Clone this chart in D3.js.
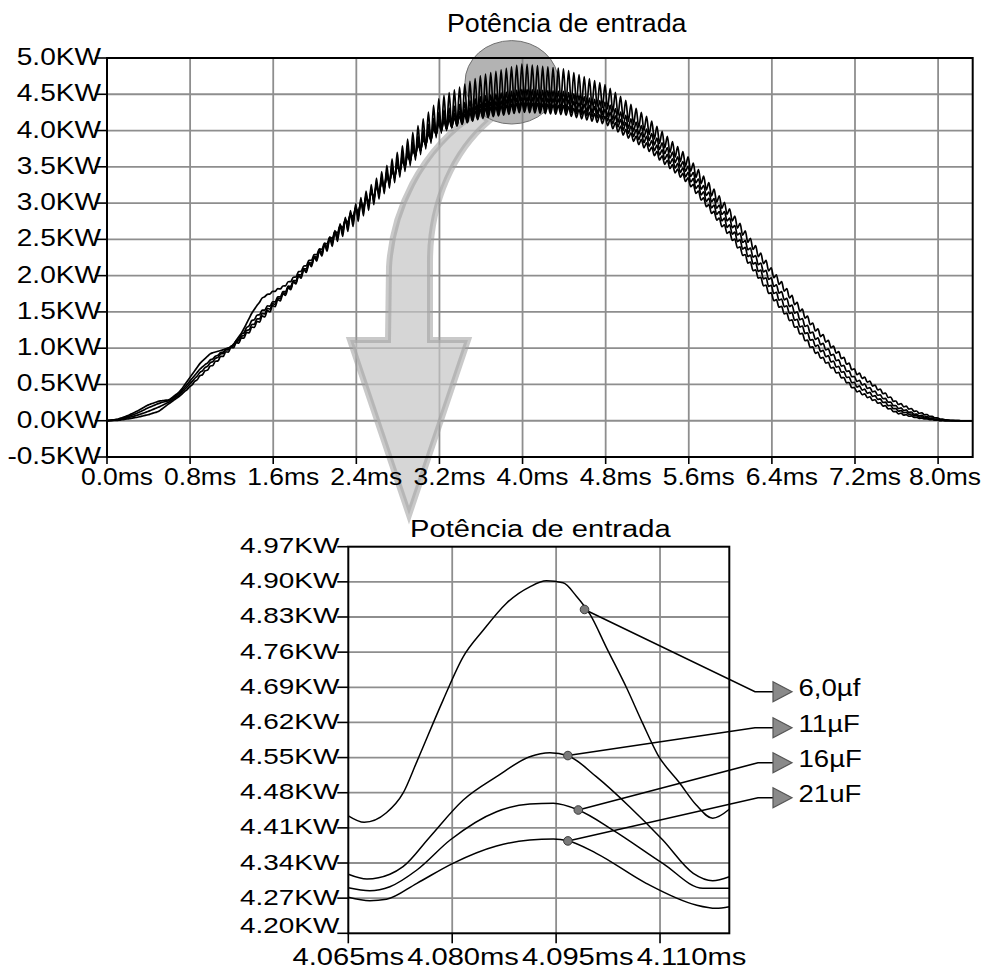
<!DOCTYPE html>
<html><head><meta charset="utf-8">
<script src="https://cdn.jsdelivr.net/npm/d3@7"></script>
<style>
html,body{margin:0;padding:0;background:#fff;}
svg{display:block;}
text{font-family:"Liberation Sans",Arial,Helvetica,sans-serif;fill:#000;}
</style>
</head><body>
<svg id="chart" width="989" height="974"></svg>
<script>
// ---------------- DATA ----------------
const TITLE = "Potência de entrada";

// top chart axes
const TOP_X_TICKS = [0, 0.8, 1.6, 2.4, 3.2, 4.0, 4.8, 5.6, 6.4, 7.2, 8.0];
const TOP_X_LABELS = ["0.0ms","0.8ms","1.6ms","2.4ms","3.2ms","4.0ms","4.8ms","5.6ms","6.4ms","7.2ms","8.0ms"];
const TOP_Y_TICKS = [-0.5, 0, 0.5, 1.0, 1.5, 2.0, 2.5, 3.0, 3.5, 4.0, 4.5, 5.0];
const TOP_Y_LABELS = ["-0.5KW","0.0KW","0.5KW","1.0KW","1.5KW","2.0KW","2.5KW","3.0KW","3.5KW","4.0KW","4.5KW","5.0KW"];

// top chart: envelope of each series (ms, KW) = slow mean + switching ripple half-amplitude
const ENV_T   = [0,0.1,0.2,0.3,0.4,0.5,0.6,0.7,0.8,0.9,1.0,1.1,1.2,1.3,1.4,1.5,1.6,1.7,1.8,2.0,2.4,2.8,3.2,3.6,4.0,4.4,4.8,5.2,5.6,6.0,6.4,6.8,7.2,7.6,7.8,8.0,8.1,8.2,8.333];
const MEAN_6  = [0,0.005,0.025,0.05,0.085,0.13,0.24,0.34,0.47,0.62,0.75,0.88,1.00,1.13,1.28,1.43,1.57,1.73,1.89,2.22,2.86,3.52,4.20,4.50,4.67,4.62,4.47,4.08,3.55,2.85,2.05,1.30,0.68,0.25,0.12,0.03,0.008,0,0];
const RIP_6   = [0,0,0,0,0,0,0,0,0.005,0.01,0.012,0.015,0.018,0.02,0.022,0.025,0.027,0.03,0.035,0.045,0.14,0.19,0.25,0.26,0.25,0.23,0.16,0.11,0.08,0.06,0.045,0.035,0.025,0.015,0.01,0.005,0,0,0];
const MEAN_11 = [0,0.01,0.04,0.08,0.13,0.19,0.26,0.36,0.51,0.67,0.80,0.92,1.02,1.16,1.32,1.47,1.60,1.75,1.90,2.23,2.87,3.50,4.12,4.33,4.44,4.42,4.30,3.95,3.45,2.74,1.92,1.18,0.58,0.19,0.08,0.015,0.003,0,0];
const RIP_11  = [0,0,0,0,0,0,0,0,0,0.005,0.008,0.01,0.012,0.015,0.017,0.02,0.022,0.024,0.026,0.03,0.09,0.11,0.14,0.14,0.13,0.12,0.09,0.065,0.05,0.04,0.035,0.03,0.02,0.012,0.008,0.004,0,0,0];
const MEAN_16 = [0,0.015,0.055,0.11,0.18,0.24,0.28,0.38,0.55,0.72,0.84,0.94,1.02,1.19,1.38,1.52,1.63,1.77,1.92,2.25,2.88,3.48,4.08,4.27,4.37,4.35,4.22,3.86,3.37,2.65,1.82,1.08,0.50,0.15,0.06,0.008,0,0,0];
const RIP_16  = [0,0,0,0,0,0,0,0,0,0,0.005,0.007,0.009,0.011,0.013,0.015,0.017,0.019,0.021,0.025,0.06,0.08,0.09,0.095,0.09,0.085,0.07,0.055,0.045,0.04,0.032,0.028,0.02,0.01,0.006,0.003,0,0,0];
const MEAN_21 = [0,0.02,0.07,0.14,0.22,0.27,0.29,0.40,0.60,0.80,0.93,0.97,1.02,1.22,1.50,1.70,1.78,1.85,1.97,2.28,2.90,3.46,4.05,4.23,4.32,4.28,4.14,3.78,3.30,2.56,1.72,0.98,0.43,0.11,0.04,0.004,0,0,0];
const RIP_21  = [0,0,0,0,0,0,0,0,0,0,0,0,0,0,0,0.005,0.008,0.012,0.016,0.02,0.04,0.05,0.06,0.065,0.067,0.062,0.055,0.045,0.04,0.035,0.03,0.025,0.018,0.01,0.005,0.002,0,0,0];
const RIPPLE_PERIOD_MS = 0.05;    // switching ripple period
const RIPPLE_PEAK_MS = 4.0936;    // time of a ripple crest (zoomed plot)

// bottom (zoomed) chart axes
const BOT_X_TICKS = [4.065, 4.080, 4.095, 4.110];
const BOT_X_LABELS = ["4.065ms","4.080ms","4.095ms","4.110ms"];
const BOT_Y_TICKS = [4.20,4.27,4.34,4.41,4.48,4.55,4.62,4.69,4.76,4.83,4.90,4.97];
const BOT_Y_LABELS = ["4.20KW","4.27KW","4.34KW","4.41KW","4.48KW","4.55KW","4.62KW","4.69KW","4.76KW","4.83KW","4.90KW","4.97KW"];

// bottom chart series (ms, KW)
const Z6_T  = [4.065,4.0673,4.0705,4.0729,4.0749,4.0787,4.0816,4.0845,4.0878,4.0912,4.0936,4.0960,4.0979,4.0999,4.1023,4.1052,4.1075,4.1097,4.1128,4.1152,4.1176,4.12];
const Z6_V  = [4.434,4.421,4.440,4.479,4.542,4.665,4.751,4.804,4.857,4.890,4.902,4.898,4.872,4.835,4.768,4.688,4.618,4.555,4.500,4.456,4.429,4.447];
const Z11_T = [4.065,4.0677,4.0710,4.0729,4.0768,4.0816,4.0864,4.0912,4.0941,4.0967,4.1008,4.1056,4.1104,4.1148,4.1176,4.12];
const Z11_V = [4.3175,4.308,4.3175,4.3326,4.3924,4.4655,4.5119,4.5517,4.5597,4.5537,4.5119,4.4521,4.3858,4.3195,4.3048,4.3127];
const Z16_T = [4.065,4.0681,4.0710,4.0749,4.0797,4.0864,4.0912,4.0946,4.0982,4.1032,4.1104,4.1162,4.12];
const Z16_V = [4.2908,4.2848,4.2928,4.3261,4.3858,4.4422,4.4575,4.4589,4.4456,4.4057,4.3394,4.2896,4.2896];
const Z21_T = [4.065,4.0681,4.0705,4.0749,4.0801,4.0864,4.0912,4.0946,4.0967,4.1008,4.1080,4.1152,4.1181,4.12];
const Z21_V = [4.2717,4.2649,4.2677,4.2996,4.3394,4.3739,4.3858,4.3878,4.3844,4.3593,4.2996,4.2564,4.2498,4.2530];

// legend / markers
const SERIES_LABELS = ["6,0µf","11µF","16µF","21uF"];
const MARKER_T = [4.0991, 4.0967, 4.0982, 4.0967];
const MARKER_V = [4.845, 4.554, 4.4456, 4.384];

// ---------------- LAYOUT ----------------
const svg = d3.select("#chart");
svg.append("rect").attr("width",989).attr("height",974).attr("fill","#fff");

const GRID = "#8e8e8e", GRIDW = 1.8;
const TB = {l:107, r:972.7, t:58, b:457};
const BB = {l:348.3, r:729.3, t:546.7, b:933.3};

const xT = d3.scaleLinear().domain([0, 8.333]).range([TB.l, TB.r]);
const yT = d3.scaleLinear().domain([-0.5, 5.0]).range([TB.b, TB.t]);
const xB = d3.scaleLinear().domain([4.065, 4.12]).range([BB.l, BB.r]);
const yB = d3.scaleLinear().domain([4.20, 4.97]).range([BB.b, BB.t]);

function stext(g, x, y, str, size, sx, anchor){
  return g.append("text")
    .attr("transform", `translate(${x},${y}) scale(${sx},1)`)
    .attr("text-anchor", anchor)
    .style("font-size", size + "px")
    .text(str);
}

// ---------- TOP CHART ----------
const gTop = svg.append("g");
gTop.append("g").selectAll("line").data(TOP_Y_TICKS.filter(v => v > -0.5 && v < 5.0)).join("line")
  .attr("x1", TB.l).attr("x2", TB.r).attr("y1", d => yT(d)).attr("y2", d => yT(d))
  .attr("stroke", GRID).attr("stroke-width", GRIDW);
gTop.append("g").selectAll("line").data(TOP_X_TICKS.filter(v => v > 0)).join("line")
  .attr("x1", d => xT(d)).attr("x2", d => xT(d)).attr("y1", TB.t).attr("y2", TB.b)
  .attr("stroke", GRID).attr("stroke-width", GRIDW);

// curved arrow and highlight ellipse (annotation)
svg.append("path")
  .attr("d", "M388,340 L389,267 C392,215 418,150 478,112 L489,121 C455,150 430,200 430,262 L430,340 L468,340 L409,515 L350,340 Z")
  .attr("fill", "#c4c4c4").attr("fill-opacity", 0.7)
  .attr("stroke", "#9c9c9c").attr("stroke-opacity", 0.55).attr("stroke-width", 6)
  .attr("stroke-linejoin", "miter");
svg.append("ellipse").attr("cx", 511.7).attr("cy", 82.3).attr("rx", 46.7).attr("ry", 41.7)
  .attr("fill", "#808080").attr("fill-opacity", 0.6).attr("stroke", "#707070").attr("stroke-width", 1);

// curves
function ripplePoints(mean, amp){
  const m = d3.scaleLinear().domain(ENV_T).range(mean).clamp(true);
  const a = d3.scaleLinear().domain(ENV_T).range(amp).clamp(true);
  const half = RIPPLE_PERIOD_MS / 2;
  const tEnd = ENV_T[ENV_T.length - 1];
  const pts = [[0, m(0)]];
  const k0 = Math.ceil(-RIPPLE_PEAK_MS / half);
  for (let k = k0; ; k++){
    const t = RIPPLE_PEAK_MS + k * half;
    if (t >= tEnd) break;
    if (t <= 0) continue;
    const s = (Math.abs(k) % 2 === 0) ? 1 : -1;
    pts.push([t, Math.max(0, m(t) + s * a(t))]);
  }
  pts.push([tEnd, m(tEnd)]);
  return pts;
}
svg.append("clipPath").attr("id","clipTop").append("rect")
  .attr("x", TB.l).attr("y", TB.t).attr("width", TB.r - TB.l).attr("height", TB.b - TB.t);
const lineTop = d3.line().x(d => xT(d[0])).y(d => yT(d[1])).curve(d3.curveMonotoneX);
const topSeries = [[MEAN_21, RIP_21],[MEAN_16, RIP_16],[MEAN_11, RIP_11],[MEAN_6, RIP_6]];
svg.append("g").attr("clip-path","url(#clipTop)").selectAll("path").data(topSeries).join("path")
  .attr("d", d => lineTop(ripplePoints(d[0], d[1])))
  .attr("fill","none").attr("stroke","#000").attr("stroke-width",1.7).attr("stroke-linejoin","round");

// frame + ticks
const gTopAx = svg.append("g");
gTopAx.append("rect").attr("x", TB.l).attr("y", TB.t).attr("width", TB.r - TB.l).attr("height", TB.b - TB.t)
  .attr("fill","none").attr("stroke","#000").attr("stroke-width",2);
gTopAx.selectAll("line.yt").data(TOP_Y_TICKS).join("line").attr("class","yt")
  .attr("x1", TB.l - 12).attr("x2", TB.l).attr("y1", d => yT(d)).attr("y2", d => yT(d))
  .attr("stroke","#000").attr("stroke-width",1.6);
gTopAx.selectAll("line.xt").data(TOP_X_TICKS).join("line").attr("class","xt")
  .attr("x1", d => xT(d)).attr("x2", d => xT(d)).attr("y1", TB.b).attr("y2", TB.b + 7)
  .attr("stroke","#000").attr("stroke-width",1.6);
TOP_Y_TICKS.forEach((v,i) => stext(gTopAx, TB.l - 6, yT(v) + 7, TOP_Y_LABELS[i], 24, 1.17, "end"));
TOP_X_TICKS.forEach((v,i) => {
  const t = stext(gTopAx, 0, 0, TOP_X_LABELS[i], 24.5, 1.08, "middle");
  const w = t.node().getComputedTextLength() * 1.08;
  let cx = xT(v) + 10;
  if (cx + w/2 > 981) cx = 981 - w/2;
  t.attr("transform", `translate(${cx},485) scale(1.08,1)`);
});
stext(svg, 566.7, 32, TITLE, 25.5, 1.05, "middle");

// ---------- BOTTOM CHART ----------
const gBot = svg.append("g");
gBot.selectAll("line.hg").data(BOT_Y_TICKS.filter(v => v > 4.2 && v < 4.97)).join("line").attr("class","hg")
  .attr("x1", BB.l).attr("x2", BB.r).attr("y1", d => yB(d)).attr("y2", d => yB(d))
  .attr("stroke", GRID).attr("stroke-width", GRIDW);
gBot.selectAll("line.vg").data(BOT_X_TICKS.filter(v => v > 4.065)).join("line").attr("class","vg")
  .attr("x1", d => xB(d)).attr("x2", d => xB(d)).attr("y1", BB.t).attr("y2", BB.b)
  .attr("stroke", GRID).attr("stroke-width", GRIDW);

svg.append("clipPath").attr("id","clipBot").append("rect")
  .attr("x", BB.l).attr("y", BB.t).attr("width", BB.r - BB.l).attr("height", BB.b - BB.t);
const lineBot = d3.line().x(d => xB(d[0])).y(d => yB(d[1])).curve(d3.curveMonotoneX);
const botSeries = [[Z6_T, Z6_V],[Z11_T, Z11_V],[Z16_T, Z16_V],[Z21_T, Z21_V]];
svg.append("g").attr("clip-path","url(#clipBot)").selectAll("path").data(botSeries).join("path")
  .attr("d", d => lineBot(d[0].map((t,i) => [t, d[1][i]])))
  .attr("fill","none").attr("stroke","#000").attr("stroke-width",1.5);

const gBotAx = svg.append("g");
gBotAx.append("rect").attr("x", BB.l).attr("y", BB.t).attr("width", BB.r - BB.l).attr("height", BB.b - BB.t)
  .attr("fill","none").attr("stroke","#000").attr("stroke-width",2);
gBotAx.selectAll("line.yt").data(BOT_Y_TICKS).join("line").attr("class","yt")
  .attr("x1", BB.l - 11).attr("x2", BB.l).attr("y1", d => yB(d)).attr("y2", d => yB(d))
  .attr("stroke","#000").attr("stroke-width",1.6);
gBotAx.selectAll("line.xt").data(BOT_X_TICKS).join("line").attr("class","xt")
  .attr("x1", d => xB(d)).attr("x2", d => xB(d)).attr("y1", BB.b).attr("y2", BB.b + 10)
  .attr("stroke","#000").attr("stroke-width",1.6);
BOT_Y_TICKS.forEach((v,i) => {
  const by = Math.min(yB(v) + 6.5, BB.b);
  stext(gBotAx, BB.l - 9, by, BOT_Y_LABELS[i], 22, 1.27, "end");
});
let prevRight = -Infinity;
BOT_X_TICKS.forEach((v,i) => {
  const t = stext(gBotAx, 0, 0, BOT_X_LABELS[i], 24.5, 1.19, "middle");
  const w = t.node().getComputedTextLength() * 1.19;
  let cx = xB(v);
  if (cx - w/2 < prevRight + 3) cx = prevRight + 3 + w/2;
  prevRight = cx + w/2;
  t.attr("transform", `translate(${cx},965) scale(1.19,1)`);
});
stext(svg, 540.3, 537.3, TITLE, 23.3, 1.25, "middle");

// markers, leader lines, legend
const LEG_X0 = 773, LEG_TIP = 792, LEG_ELBOW = [755, 755, 758, 758];
const LEG_Y = [691.7, 727.7, 762.7, 797.7];
const gLeg = svg.append("g");
SERIES_LABELS.forEach((lab, i) => {
  const mx = xB(MARKER_T[i]), my = yB(MARKER_V[i]);
  gLeg.append("polyline")
    .attr("points", `${mx},${my} ${LEG_ELBOW[i]},${LEG_Y[i]} ${LEG_X0},${LEG_Y[i]}`)
    .attr("fill","none").attr("stroke","#000").attr("stroke-width",1.5);
  gLeg.append("circle").attr("cx", mx).attr("cy", my).attr("r", 4.3)
    .attr("fill","#7a7a7a").attr("stroke","#3a3a3a").attr("stroke-width",1);
  gLeg.append("path")
    .attr("d", `M${LEG_X0},${LEG_Y[i]-10} L${LEG_TIP},${LEG_Y[i]} L${LEG_X0},${LEG_Y[i]+10} Z`)
    .attr("fill","#8a8a8a").attr("stroke","#555").attr("stroke-width",1.2);
  stext(gLeg, 798.5, LEG_Y[i] + 4, lab, 24, 1.15, "start");
});
</script>
</body></html>
